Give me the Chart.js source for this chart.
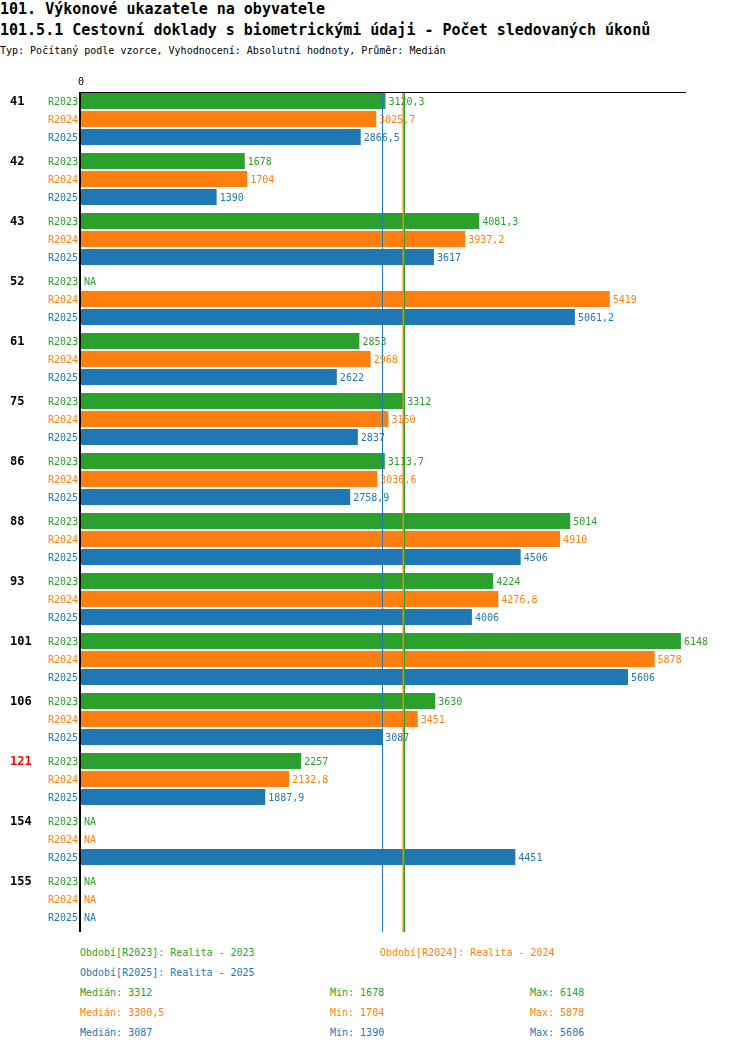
<!DOCTYPE html>
<html>
<head>
<meta charset="utf-8">
<script src="https://cdn.jsdelivr.net/npm/chart.js@4.4.1/dist/chart.umd.min.js"></script>
<style>
  html, body { margin:0; padding:0; background:#fff; }
  body { width:750px; height:1052px; position:relative; overflow:hidden; font-family:"DejaVu Sans Mono", monospace; }
  .t { position:absolute; left:0; white-space:pre; color:#000; }
  #t1 { top:0px; font-size:15px; font-weight:bold; }
  #t2 { top:21px; font-size:15px; font-weight:bold; }
  #t3 { top:45px; font-size:10px; }
  #c { position:absolute; left:0; top:0; }
  .lg { position:absolute; font-size:10px; white-space:pre; }
</style>
</head>
<body>
<div class="t" id="t1">101. Výkonové ukazatele na obyvatele</div>
<div class="t" id="t2">101.5.1 Cestovní doklady s biometrickými údaji - Počet sledovaných úkonů</div>
<div class="t" id="t3">Typ: Počítaný podle vzorce, Vyhodnocení: Absolutní hodnoty, Průměr: Medián</div>
<canvas id="c" width="750" height="940"></canvas>
<div id="legend"></div>
<script>
const categories = ['41','42','43','52','61','75','86','88','93','101','106','121','154','155'];
const highlighted = ['121'];
const seriesNames = ['R2023','R2024','R2025'];
const seriesTitles = ['Realita - 2023','Realita - 2024','Realita - 2025'];
const colors = ['#2ca02c','#ff7f0e','#1f77b4'];
const r2023 = [3120.3,1678,4081.3,null,2853,3312,3113.7,5014,4224,6148,3630,2257,null,null];
const r2024 = [3025.7,1704,3937.2,5419,2968,3150,3036.6,4910,4276.8,5878,3451,2132.8,null,null];
const r2025 = [2866.5,1390,3617,5061.2,2622,2837,2758.9,4506,4006,5606,3087,1887.9,4451,null];
const medians = [3312,3300.5,3087];
const mins = [1678,1704,1390];
const maxs = [6148,5878,5606];
const xTicks = [0];
const xMax = 6200;

const fmt = v => String(v).replace('.', ',');
const FONT = '"DejaVu Sans Mono", monospace';

const overlay = {
  id:'overlay',
  afterDatasetsDraw(chart){
    const ctx = chart.ctx, ca = chart.chartArea;
    const xs = chart.scales.x;
    const x0 = xs.getPixelForValue(0);
    const top = ca.top + 3, bottom = ca.bottom + 3;
    ctx.save();
    // median lines
    const widths = [1,2,1];
    [2,1,0].forEach(i=>{
      const px = Math.round(xs.getPixelForValue(medians[i])) + 0.5;
      ctx.strokeStyle = colors[i];
      ctx.lineWidth = widths[i];
      ctx.beginPath(); ctx.moveTo(px, top); ctx.lineTo(px, bottom); ctx.stroke();
    });
    // top axis line
    ctx.strokeStyle = '#000'; ctx.lineWidth = 1;
    ctx.beginPath(); ctx.moveTo(x0, top + 0.5); ctx.lineTo(ca.right, top + 0.5); ctx.stroke();
    // left axis line
    ctx.lineWidth = 2;
    ctx.beginPath(); ctx.moveTo(x0 - 1, top); ctx.lineTo(x0 - 1, bottom); ctx.stroke();
    // tick labels
    ctx.fillStyle = '#000'; ctx.font = '10px ' + FONT;
    ctx.textAlign = 'center'; ctx.textBaseline = 'middle';
    xTicks.forEach(t => ctx.fillText(String(t), xs.getPixelForValue(t), top - 10));
    // group labels
    ctx.font = 'bold 12px ' + FONT; ctx.textAlign = 'left';
    const meta0 = chart.getDatasetMeta(0);
    categories.forEach((c, i) => {
      const y = meta0.data[i].y + 1;
      ctx.fillStyle = highlighted.includes(c) ? '#ff0000' : '#000';
      ctx.fillText(c, 10, y);
    });
    // series labels and values
    ctx.font = '10px ' + FONT;
    chart.data.datasets.forEach((ds, di) => {
      const meta = chart.getDatasetMeta(di);
      meta.data.forEach((bar, i) => {
        const v = ds.data[i];
        const y = bar.y + 1;
        ctx.fillStyle = colors[di];
        ctx.textAlign = 'right';
        ctx.fillText(seriesNames[di], x0 - 3, y);
        ctx.textAlign = 'left';
        if (v === null || v === undefined) {
          ctx.fillText('NA', x0 + 3, y);
        } else {
          ctx.fillText(fmt(v), xs.getPixelForValue(v) + 3, y);
        }
      });
    });
    ctx.restore();
  }
};

new Chart(document.getElementById('c'), {
  type:'bar',
  data:{
    labels: categories,
    datasets: [r2023, r2024, r2025].map((d, i) => ({
      label: seriesNames[i], data: d, backgroundColor: colors[i], borderWidth: 0,
      categoryPercentage: 0.9, barPercentage: 16/18
    }))
  },
  options:{
    indexAxis:'y',
    responsive:false,
    animation:false,
    devicePixelRatio:1,
    layout:{ padding:{ left:81, right:64, top:89, bottom:11 } },
    scales:{
      x:{ display:false, min:0, max:xMax },
      y:{ display:false }
    },
    plugins:{ legend:{ display:false }, tooltip:{ enabled:false } }
  },
  plugins:[overlay]
});

// legend & statistics as text
const lg = document.getElementById('legend');
function addText(txt, x, y, color){
  const d = document.createElement('div');
  d.className = 'lg'; d.textContent = txt;
  d.style.left = x + 'px'; d.style.top = y + 'px'; d.style.color = color;
  lg.appendChild(d);
}
const legendPos = [[80,947],[380,947],[80,967]];
seriesNames.forEach((n, i) => addText('Období[' + n + ']: ' + seriesTitles[i], legendPos[i][0], legendPos[i][1], colors[i]));
seriesNames.forEach((n, i) => {
  const y = 987 + i * 20;
  addText('Medián: ' + fmt(medians[i]), 80, y, colors[i]);
  addText('Min: ' + fmt(mins[i]), 330, y, colors[i]);
  addText('Max: ' + fmt(maxs[i]), 530, y, colors[i]);
});
</script>
</body>
</html>
